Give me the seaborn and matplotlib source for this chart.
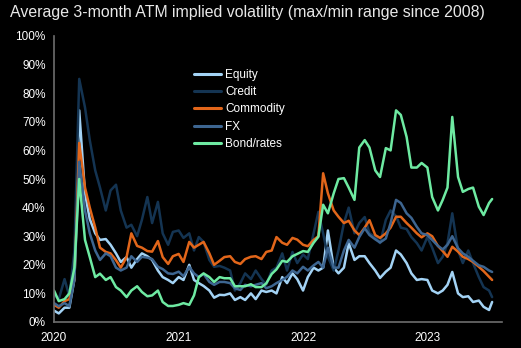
import matplotlib
matplotlib.use("Agg")
import matplotlib.pyplot as plt
import matplotlib.dates as mdates
import matplotlib.ticker as mticker
import numpy as np
import pandas as pd
import seaborn as sns

# ---- data (values in %) ----
dates = list(pd.date_range("2020-01-01", "2023-07-01", freq="SMS")) + [pd.Timestamp("2023-07-10")]

equity = [4, 3, 5, 5, 15, 74, 45, 36, 31, 28.7, 29, 27, 24, 21, 22.7, 19, 22, 24, 23, 21.7,
          18, 15.7, 14.7, 13.6, 15.7, 14.7, 20, 14.7, 13.6, 12.6, 11, 8.5, 9.5, 9.4, 10, 7.7,
          8.7, 7.7, 10, 8, 11, 10.5, 11, 10, 15.7, 13.6, 17, 15, 11, 15.7, 19, 18, 19, 32,
          19, 17, 19, 27.6, 21.7, 23, 23, 20.6, 18, 15.4, 17.6, 19, 25, 23.6, 20.6, 17, 14.7,
          15, 14.7, 11, 10, 11, 13, 17.5, 10, 8.7, 9, 7, 7.5, 5.3, 4.2, 7]
credit = [9.5, 8, 15, 9, 25, 85, 75, 63.6, 53, 47, 39, 46, 48, 39, 33, 34, 30, 35.7, 43.7, 34.6,
          42, 31, 27, 31.5, 32, 29.4, 31, 25, 29.7, 28, 21.7, 19.3, 19.6, 19, 18, 11, 13.6, 17,
          15, 18, 15, 13, 18, 19, 24, 18, 24.5, 20.6, 23.6, 22, 31, 38.5, 31, 22.8, 18, 25,
          34.6, 40, 31, 34.6, 36.7, 31, 29.7, 27.6, 35.7, 39, 37, 33, 32.5, 29.7, 27.6, 25,
          29.7, 26, 20.6, 22.8, 27.6, 38, 25, 20.6, 25, 20.6, 15.7, 12.2, 11, 8.7]
commodity = [6, 5, 7.3, 8, 15, 62.6, 47, 40, 33, 26, 24.5, 24, 21.6, 19, 22.7, 31, 26.6, 26,
             24.8, 24.6, 28.3, 22.7, 20.3, 23, 23.8, 21, 28, 26, 27, 28, 24, 20, 21.4, 22.7,
             23, 21, 20.3, 22, 22.8, 23, 22, 24.5, 25, 29.7, 27.7, 27, 29.4, 28.8, 27, 26.5,
             28.7, 30, 52, 45, 39, 36.8, 34.6, 35.4, 32, 30.4, 33, 35.6, 30.4, 29.4, 31, 33,
             36.8, 36.8, 34.6, 33, 31, 29.6, 31, 30, 26.6, 24.8, 22.8, 26.3, 24.6, 22.8, 22,
             21, 19.3, 17.8, 15.8, 14.7]
fx = [6.6, 5.5, 6.6, 5.5, 15, 56, 39, 31, 25, 21.7, 24, 23, 19, 18, 19, 23, 21, 22.8, 22.5, 22,
      19.3, 18.5, 17, 16.8, 17.6, 16, 19.3, 17, 15.7, 16.8, 14, 13, 14, 14, 13.6, 11.8, 11.2,
      13, 12.5, 13, 13.6, 11.8, 12.5, 13.6, 14.7, 15.8, 18, 17, 19.3, 18, 19.8, 21, 19, 26,
      19, 19, 25, 28.7, 26, 29.7, 32.8, 30.4, 28.9, 27.8, 29.2, 34.6, 42.7, 41.6, 38, 36.4,
      33.3, 31, 30.4, 28.7, 26.6, 25.4, 27, 30, 25.8, 24, 22.8, 21.4, 19.8, 19.3, 18, 17.5]
bond = [11, 7.3, 8, 10, 19, 50, 28.7, 22.7, 15.7, 16.9, 14.7, 15.7, 12.2, 11, 8.7, 11, 12.5,
        10.5, 9, 9.3, 11, 7, 5.6, 5.6, 6, 6.6, 6, 9.3, 15.7, 17, 15.7, 14, 15.7, 15.3, 15.3,
        12.5, 12.5, 12.5, 13.2, 12.2, 12.2, 13.5, 16.8, 18.4, 21.4, 21, 23, 23.8, 24.8, 24.5,
        27.7, 29.8, 41, 38, 45, 50, 50.3, 47, 42.7, 61, 63.6, 61, 53, 50.7, 60.8, 60, 74,
        72.4, 64.7, 54, 54, 55.6, 54, 43.7, 39, 42.7, 47, 71.7, 50.7, 45.5, 46.5, 47, 40.3,
        37.4, 41.6, 43]

series_names = ["Equity", "Credit", "Commodity", "FX", "Bond/rates"]
series_vals = [equity, credit, commodity, fx, bond]
colors = ["#a3d3f5", "#143452", "#e2661a", "#3d6590", "#6eeaa2"]

frames = []
for name, vals in zip(series_names, series_vals):
    frames.append(pd.DataFrame({"date": dates, "value": np.array(vals) / 100.0, "series": name}))
df = pd.concat(frames, ignore_index=True)

# ---- style ----
sns.set_theme(style="dark")
plt.rcParams["font.family"] = ["Liberation Sans", "DejaVu Sans"]

fig = plt.figure(figsize=(5.21, 3.48), dpi=100, facecolor="black")
ax = fig.add_axes([54 / 521, 1 - 322 / 348, 448 / 521, (322 - 36) / 348])
ax.set_facecolor("black")

sns.lineplot(data=df, x="date", y="value", hue="series", hue_order=series_names,
             palette=dict(zip(series_names, colors)), linewidth=1.8, ax=ax, legend=True)

ax.set_ylim(0, 1.0)
ax.set_xlim(pd.Timestamp("2020-01-01"), pd.Timestamp("2023-08-08"))
ax.yaxis.set_major_locator(mticker.MultipleLocator(0.1))
ax.yaxis.set_major_formatter(mticker.PercentFormatter(1.0, decimals=0))
ax.xaxis.set_major_locator(mdates.YearLocator())
ax.xaxis.set_major_formatter(mdates.DateFormatter("%Y"))
ax.set_xlabel("")
ax.set_ylabel("")
ax.grid(False)

for side in ["top", "right"]:
    ax.spines[side].set_visible(False)
for side in ["left", "bottom"]:
    ax.spines[side].set_visible(True)
    ax.spines[side].set_color("#6e6e6e")
    ax.spines[side].set_linewidth(1.2)

ax.tick_params(axis="both", colors="#6e6e6e", labelcolor="white", labelsize=8.5,
               length=3, width=1, direction="out")
ax.tick_params(axis="y", pad=3)
ax.tick_params(axis="x", pad=4)

leg = ax.legend(loc="upper left", bbox_to_anchor=(0.3, 0.905), frameon=False,
                fontsize=8.5, handlelength=2.3, handletextpad=0.3, labelspacing=0.44,
                borderpad=0)
for t in leg.get_texts():
    t.set_color("white")
for h in leg.get_lines():
    h.set_linewidth(2.2)

fig.text(0.019, 0.985, "Average 3-month ATM implied volatility (max/min range since 2008)",
         color="#e8e8e8", fontsize=11.4, va="top", ha="left",
         family=["Liberation Sans", "DejaVu Sans"])

fig.savefig("out.png", dpi=100, facecolor="black")
